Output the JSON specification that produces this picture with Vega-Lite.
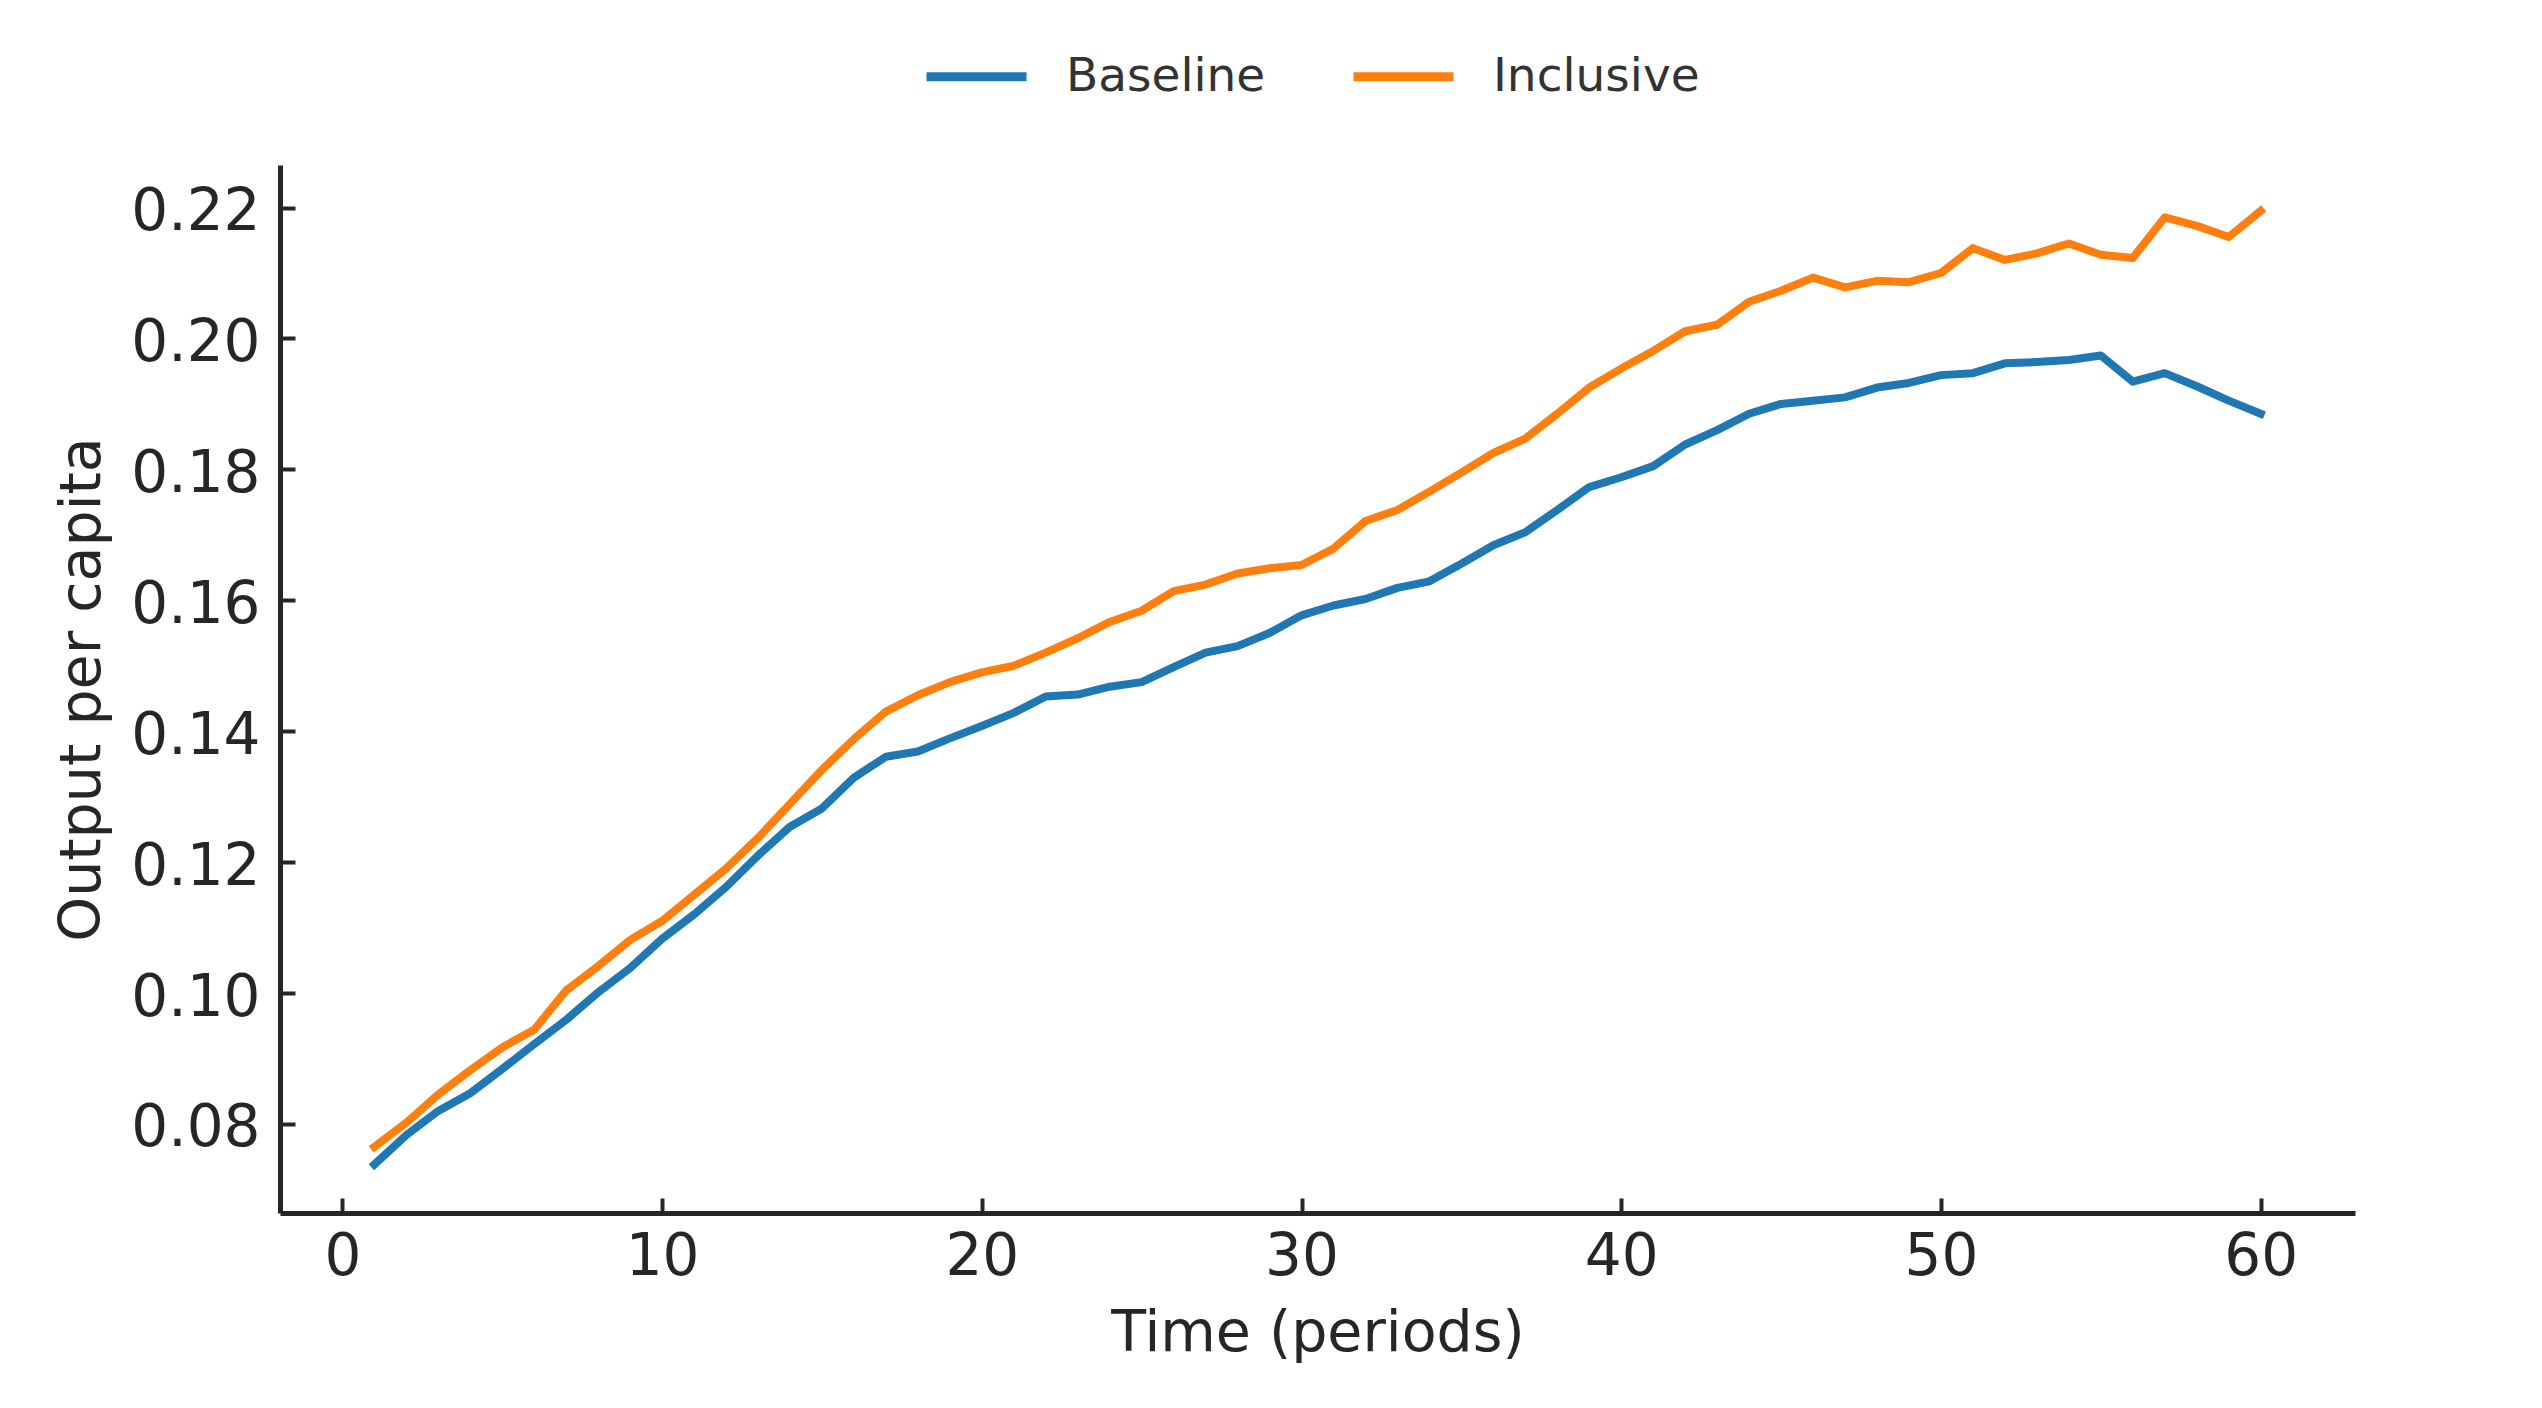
{
  "$schema": "https://vega.github.io/schema/vega-lite/v6.json",
  "width": 2075,
  "height": 1048,
  "autosize": {"type": "none"},
  "padding": {"left": 280, "top": 165, "right": 187, "bottom": 195},
  "background": "white",
  "config": {
    "view": {"stroke": null},
    "font": "DejaVu Sans",
    "axis": {
      "grid": false,
      "domainColor": "#262626",
      "domainWidth": 5,
      "tickColor": "#262626",
      "tickWidth": 4,
      "tickSize": 15,
      "labelFont": "DejaVu Sans",
      "labelFontSize": 58,
      "labelColor": "#262626",
      "titleFont": "DejaVu Sans",
      "titleFontSize": 57,
      "titleFontWeight": "normal",
      "titleColor": "#262626",
      "labelFlush": false,
      "labelOverlap": false
    }
  },
  "data": {
    "values": [
      {"t":1,"series":"Baseline","value":0.0738},{"t":2,"series":"Baseline","value":0.0783},{"t":3,"series":"Baseline","value":0.0820},{"t":4,"series":"Baseline","value":0.0847},{"t":5,"series":"Baseline","value":0.0884},{"t":6,"series":"Baseline","value":0.0922},{"t":7,"series":"Baseline","value":0.0959},{"t":8,"series":"Baseline","value":0.1001},{"t":9,"series":"Baseline","value":0.1038},{"t":10,"series":"Baseline","value":0.1083},
      {"t":11,"series":"Baseline","value":0.1120},{"t":12,"series":"Baseline","value":0.1162},{"t":13,"series":"Baseline","value":0.1210},{"t":14,"series":"Baseline","value":0.1254},{"t":15,"series":"Baseline","value":0.1282},{"t":16,"series":"Baseline","value":0.1329},{"t":17,"series":"Baseline","value":0.1361},{"t":18,"series":"Baseline","value":0.1369},{"t":19,"series":"Baseline","value":0.1389},{"t":20,"series":"Baseline","value":0.1408},
      {"t":21,"series":"Baseline","value":0.1428},{"t":22,"series":"Baseline","value":0.1453},{"t":23,"series":"Baseline","value":0.1456},{"t":24,"series":"Baseline","value":0.1468},{"t":25,"series":"Baseline","value":0.1475},{"t":26,"series":"Baseline","value":0.1498},{"t":27,"series":"Baseline","value":0.1520},{"t":28,"series":"Baseline","value":0.1530},{"t":29,"series":"Baseline","value":0.1550},{"t":30,"series":"Baseline","value":0.1577},
      {"t":31,"series":"Baseline","value":0.1592},{"t":32,"series":"Baseline","value":0.1602},{"t":33,"series":"Baseline","value":0.1619},{"t":34,"series":"Baseline","value":0.1629},{"t":35,"series":"Baseline","value":0.1656},{"t":36,"series":"Baseline","value":0.1684},{"t":37,"series":"Baseline","value":0.1704},{"t":38,"series":"Baseline","value":0.1738},{"t":39,"series":"Baseline","value":0.1773},{"t":40,"series":"Baseline","value":0.1788},
      {"t":41,"series":"Baseline","value":0.1805},{"t":42,"series":"Baseline","value":0.1838},{"t":43,"series":"Baseline","value":0.1860},{"t":44,"series":"Baseline","value":0.1885},{"t":45,"series":"Baseline","value":0.1900},{"t":46,"series":"Baseline","value":0.1905},{"t":47,"series":"Baseline","value":0.1910},{"t":48,"series":"Baseline","value":0.1925},{"t":49,"series":"Baseline","value":0.1932},{"t":50,"series":"Baseline","value":0.1944},
      {"t":51,"series":"Baseline","value":0.1947},{"t":52,"series":"Baseline","value":0.1962},{"t":53,"series":"Baseline","value":0.1964},{"t":54,"series":"Baseline","value":0.1967},{"t":55,"series":"Baseline","value":0.1974},{"t":56,"series":"Baseline","value":0.1934},{"t":57,"series":"Baseline","value":0.1947},{"t":58,"series":"Baseline","value":0.1927},{"t":59,"series":"Baseline","value":0.1905},{"t":60,"series":"Baseline","value":0.1885},
      {"t":1,"series":"Inclusive","value":0.0765},{"t":2,"series":"Inclusive","value":0.0802},{"t":3,"series":"Inclusive","value":0.0845},{"t":4,"series":"Inclusive","value":0.0882},{"t":5,"series":"Inclusive","value":0.0917},{"t":6,"series":"Inclusive","value":0.0944},{"t":7,"series":"Inclusive","value":0.1004},{"t":8,"series":"Inclusive","value":0.1041},{"t":9,"series":"Inclusive","value":0.1081},{"t":10,"series":"Inclusive","value":0.1110},
      {"t":11,"series":"Inclusive","value":0.1150},{"t":12,"series":"Inclusive","value":0.1190},{"t":13,"series":"Inclusive","value":0.1237},{"t":14,"series":"Inclusive","value":0.1289},{"t":15,"series":"Inclusive","value":0.1341},{"t":16,"series":"Inclusive","value":0.1388},{"t":17,"series":"Inclusive","value":0.1430},{"t":18,"series":"Inclusive","value":0.1455},{"t":19,"series":"Inclusive","value":0.1475},{"t":20,"series":"Inclusive","value":0.1490},
      {"t":21,"series":"Inclusive","value":0.1500},{"t":22,"series":"Inclusive","value":0.1520},{"t":23,"series":"Inclusive","value":0.1542},{"t":24,"series":"Inclusive","value":0.1567},{"t":25,"series":"Inclusive","value":0.1584},{"t":26,"series":"Inclusive","value":0.1614},{"t":27,"series":"Inclusive","value":0.1624},{"t":28,"series":"Inclusive","value":0.1641},{"t":29,"series":"Inclusive","value":0.1649},{"t":30,"series":"Inclusive","value":0.1654},
      {"t":31,"series":"Inclusive","value":0.1679},{"t":32,"series":"Inclusive","value":0.1721},{"t":33,"series":"Inclusive","value":0.1738},{"t":34,"series":"Inclusive","value":0.1766},{"t":35,"series":"Inclusive","value":0.1795},{"t":36,"series":"Inclusive","value":0.1825},{"t":37,"series":"Inclusive","value":0.1847},{"t":38,"series":"Inclusive","value":0.1885},{"t":39,"series":"Inclusive","value":0.1925},{"t":40,"series":"Inclusive","value":0.1954},
      {"t":41,"series":"Inclusive","value":0.1981},{"t":42,"series":"Inclusive","value":0.2011},{"t":43,"series":"Inclusive","value":0.2021},{"t":44,"series":"Inclusive","value":0.2056},{"t":45,"series":"Inclusive","value":0.2073},{"t":46,"series":"Inclusive","value":0.2093},{"t":47,"series":"Inclusive","value":0.2078},{"t":48,"series":"Inclusive","value":0.2088},{"t":49,"series":"Inclusive","value":0.2086},{"t":50,"series":"Inclusive","value":0.2100},
      {"t":51,"series":"Inclusive","value":0.2138},{"t":52,"series":"Inclusive","value":0.2120},{"t":53,"series":"Inclusive","value":0.2130},{"t":54,"series":"Inclusive","value":0.2145},{"t":55,"series":"Inclusive","value":0.2128},{"t":56,"series":"Inclusive","value":0.2123},{"t":57,"series":"Inclusive","value":0.2185},{"t":58,"series":"Inclusive","value":0.2172},{"t":59,"series":"Inclusive","value":0.2155},{"t":60,"series":"Inclusive","value":0.2195}
    ]
  },
  "layer": [
    {
      "transform": [{"filter": "datum.series === 'Baseline'"}],
      "mark": {"type": "line", "strokeWidth": 8, "strokeJoin": "round", "strokeCap": "square"},
      "encoding": {
        "x": {
          "field": "t", "type": "quantitative",
          "scale": {"domain": [-1.95, 62.95], "nice": false, "zero": false},
          "axis": {"orient": "bottom", "title": "Time (periods)", "values": [0, 10, 20, 30, 40, 50, 60], "format": "d", "domain": false, "offset": -15, "labelPadding": 15, "titlePadding": 19}
        },
        "y": {
          "field": "value", "type": "quantitative",
          "scale": {"domain": [0.0664, 0.2265], "nice": false, "zero": false},
          "axis": {"orient": "left", "title": "Output per capita", "values": [0.08, 0.10, 0.12, 0.14, 0.16, 0.18, 0.20, 0.22], "format": ".2f", "domain": false, "offset": -15, "labelPadding": 20, "labelOffset": 5, "titlePadding": 19}
        },
        "color": {
          "field": "series", "type": "nominal",
          "scale": {"domain": ["Baseline", "Inclusive"], "range": ["#1f77b4", "#ff7f0e"]},
          "legend": {
            "title": null,
            "orient": "none",
            "direction": "horizontal",
            "legendX": 642,
            "legendY": -143,
            "symbolType": "stroke",
            "symbolSize": 10000,
            "symbolStrokeWidth": 9,
            "labelFont": "DejaVu Sans",
            "labelFontSize": 47,
            "labelColor": "#333333",
            "labelOffset": 35,
            "columnPadding": 69,
            "labelLimit": 400
          }
        }
      }
    },
    {
      "transform": [{"filter": "datum.series === 'Inclusive'"}],
      "mark": {"type": "line", "strokeWidth": 8, "strokeJoin": "round", "strokeCap": "square"},
      "encoding": {
        "x": {
          "field": "t", "type": "quantitative",
          "axis": {"orient": "bottom", "title": null, "domain": true, "ticks": false, "labels": false}
        },
        "y": {
          "field": "value", "type": "quantitative",
          "axis": {"orient": "left", "title": null, "domain": true, "ticks": false, "labels": false}
        },
        "color": {"field": "series", "type": "nominal"}
      }
    }
  ],
  "resolve": {"axis": {"x": "independent", "y": "independent"}}
}
